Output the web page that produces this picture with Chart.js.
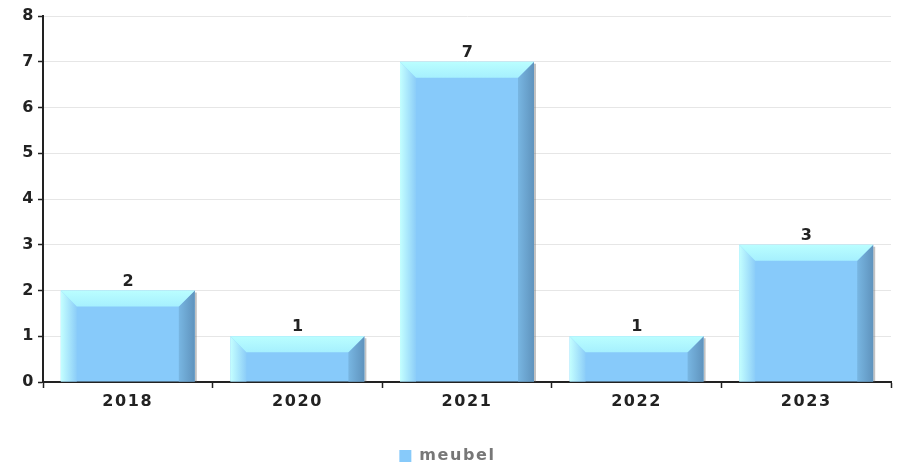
<!DOCTYPE html>
<html>
<head>
<meta charset="utf-8">
<script src="https://cdn.jsdelivr.net/npm/chart.js@4"></script>
<style>
  html, body { margin: 0; padding: 0; background: #fff; }
  #wrap { width: 901px; height: 465px; }
</style>
</head>
<body>
<div id="wrap"><canvas id="barChart" width="901" height="465"></canvas></div>
<script>
var years = ['2018', '2020', '2021', '2022', '2023'];
var meubel = [2, 1, 7, 1, 3];
var yTicks = [0, 1, 2, 3, 4, 5, 6, 7, 8];

// the reference text is a bit spaced out; also keep the legend box short
var spacingPlugin = {
    id: 'spacing',
    beforeUpdate: function (chart) {
        chart.ctx.letterSpacing = '1.6px';
        var lg = chart.legend;
        if (lg && !lg._patched) {
            var fit = lg.fit;
            lg.fit = function () { fit.call(this); this.height = 21; };
            lg._patched = true;
        }
    },
    beforeDraw: function (chart) { chart.ctx.letterSpacing = '1.6px'; }
};

// bevelled bars and the value on top of each one
var bevelPlugin = {
    id: 'bevel',
    afterDatasetsDraw: function (chart) {
        var ctx = chart.ctx;
        var meta = chart.getDatasetMeta(0);
        meta.data.forEach(function (bar, i) {
            var l = bar.x - bar.width / 2, r = bar.x + bar.width / 2;
            var t = bar.y, b = bar.base;
            var d = 16;
            ctx.save();
            // shadow on the right
            ctx.fillStyle = 'rgba(120,120,120,0.45)';
            ctx.fillRect(r, t + 2, 2, b - t - 2);
            // left
            var g = ctx.createLinearGradient(l, 0, l + d, 0);
            g.addColorStop(0, '#c4ffff');
            g.addColorStop(1, '#8ccdf8');
            ctx.fillStyle = g;
            ctx.beginPath();
            ctx.moveTo(l, t); ctx.lineTo(l + d, t + d); ctx.lineTo(l + d, b); ctx.lineTo(l, b);
            ctx.closePath(); ctx.fill();
            // right
            g = ctx.createLinearGradient(r - d, 0, r, 0);
            g.addColorStop(0, '#78b6e2');
            g.addColorStop(1, '#5f93bd');
            ctx.fillStyle = g;
            ctx.beginPath();
            ctx.moveTo(r, t); ctx.lineTo(r - d, t + d); ctx.lineTo(r - d, b); ctx.lineTo(r, b);
            ctx.closePath(); ctx.fill();
            // top
            g = ctx.createLinearGradient(0, t, 0, t + d);
            g.addColorStop(0, '#bafeff');
            g.addColorStop(1, '#a6f0fe');
            ctx.fillStyle = g;
            ctx.beginPath();
            ctx.moveTo(l, t); ctx.lineTo(r, t); ctx.lineTo(r - d, t + d); ctx.lineTo(l + d, t + d);
            ctx.closePath(); ctx.fill();
            // value label
            ctx.fillStyle = '#222';
            ctx.font = 'bold 16px "DejaVu Sans"';
            ctx.textAlign = 'center';
            ctx.textBaseline = 'bottom';
            ctx.fillText(String(meubel[i]), bar.x + 1, t - 1);
            ctx.restore();
        });
    }
};

var ctx = document.getElementById('barChart').getContext('2d');
var barChart = new Chart(ctx, {
    type: 'bar',
    data: {
        labels: years,
        datasets: [{
            label: 'meubel',
            data: meubel,
            backgroundColor: '#87cafa',
            borderWidth: 0,
            categoryPercentage: 0.79,
            barPercentage: 1
        }]
    },
    options: {
        responsive: false,
        animation: false,
        layout: { padding: { left: 4, right: 10, top: 16, bottom: 0 } },
        plugins: {
            tooltip: { enabled: false },
            legend: {
                position: 'bottom',
                labels: {
                    boxWidth: 12,
                    boxHeight: 12,
                    padding: 4,
                    color: '#777',
                    font: { family: 'DejaVu Sans', size: 16, weight: 'bold' }
                }
            }
        },
        scales: {
            x: {
                afterFit: function (scale) { scale.height = 62; },
                grid: {
                    drawOnChartArea: false,
                    tickLength: 6,
                    tickColor: '#222',
                    tickWidth: 1.5
                },
                border: { color: '#222', width: 2 },
                ticks: {
                    color: '#222',
                    padding: 4,
                    font: { family: 'DejaVu Sans', size: 16, weight: 'bold' }
                }
            },
            y: {
                min: 0,
                max: 8,
                afterBuildTicks: function (scale) {
                    scale.ticks = yTicks.map(function (v) { return { value: v }; });
                },
                afterFit: function (scale) { scale.width = 39; },
                grid: {
                    color: '#e6e6e6',
                    tickLength: 5,
                    tickColor: '#222',
                    tickWidth: 1.5
                },
                border: { color: '#222', width: 2 },
                ticks: {
                    color: '#222',
                    padding: 3,
                    font: { family: 'DejaVu Sans', size: 16, weight: 'bold' }
                }
            }
        }
    },
    plugins: [spacingPlugin, bevelPlugin]
});
</script>
</body>
</html>
